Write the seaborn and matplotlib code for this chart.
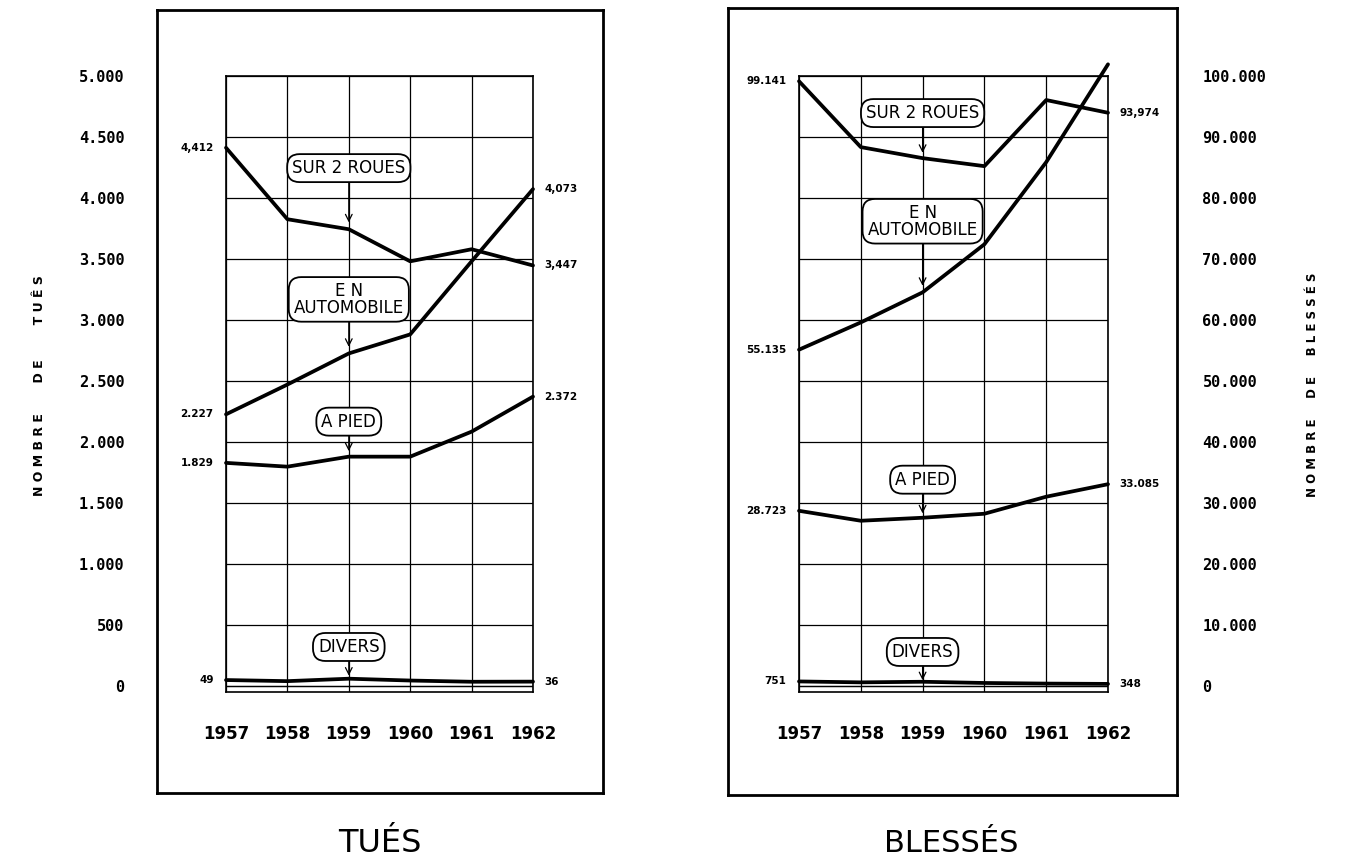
import numpy as np
import pandas as pd
import matplotlib
matplotlib.use('Agg')
import matplotlib.pyplot as plt
import seaborn as sns

# years on the x axis
years = [1957, 1958, 1959, 1960, 1961, 1962]
categories = ['SUR 2 ROUES', 'AUTOMOBILE', 'A PIED', 'DIVERS']

# tués (killed)
tues_roues = [4412, 3826, 3744, 3481, 3580, 3447]
tues_auto = [2227, 2471, 2726, 2882, 3481, 4073]
tues_pied = [1829, 1798, 1880, 1880, 2085, 2372]
tues_divers = [49, 40, 60, 45, 35, 36]

# blessés (injured)
bles_roues = [99141, 88342, 86535, 85222, 96059, 93974]
bles_auto = [55135, 59606, 64532, 72414, 85878, 101915]
bles_pied = [28723, 27094, 27586, 28243, 31034, 33085]
bles_divers = [751, 600, 700, 500, 400, 348]

# printed end labels (left of 1957 / right of 1962), same order as categories
tues_left = ['4,412', '2.227', '1.829', '49']
tues_right = ['3,447', '4,073', '2.372', '36']
bles_left = ['99.141', '55.135', '28.723', '751']
bles_right = ['93,974', '101,915', '33.085', '348']

tues_ticks = list(range(0, 5001, 500))
tues_ticklabels = ['0', '500', '1.000', '1.500', '2.000', '2.500',
                   '3.000', '3.500', '4.000', '4.500', '5.000']
bles_ticks = list(range(0, 100001, 10000))
bles_ticklabels = ['0', '10.000', '20.000', '30.000', '40.000', '50.000',
                   '60.000', '70.000', '80.000', '90.000', '100.000']

# box labels: (text, box centre, arrow tip) at 1959
tues_boxes = [('SUR 2 ROUES', 4245, 3800), ('E N\nAUTOMOBILE', 3169, 2780),
              ('A PIED', 2167, 1925), ('DIVERS', 320, 85)]
bles_boxes = [('SUR 2 ROUES', 93924, 87400), ('E N\nAUTOMOBILE', 76190, 65600),
              ('A PIED', 33826, 28300), ('DIVERS', 5583, 950)]

sns.set_style('white')
plt.rcParams['font.family'] = ['DejaVu Sans']
plt.rcParams['text.color'] = 'black'
plt.rcParams['xtick.color'] = 'black'
plt.rcParams['ytick.color'] = 'black'

W, H = 1351, 868
fig = plt.figure(figsize=(W / 100, H / 100), dpi=100)


def px_rect(x0, y0, x1, y1):
    return [x0 / W, (H - y1) / H, (x1 - x0) / W, (y1 - y0) / H]


def frame(rect):
    f = fig.add_axes(rect, zorder=0)
    f.set_xticks([])
    f.set_yticks([])
    f.patch.set_alpha(0)
    for s in f.spines.values():
        s.set_linewidth(2)
        s.set_color('black')


def panel(rect, series, ymax, ticks, ticklabels, left_lab, right_lab, boxes, right_side):
    ax = fig.add_axes(rect, zorder=2)
    ax.patch.set_alpha(0)
    df = pd.DataFrame({
        'annee': years * 4,
        'valeur': sum(series, []),
        'cat': [c for c in categories for _ in years],
    })
    sns.lineplot(data=df, x='annee', y='valeur', hue='cat',
                 palette={c: 'black' for c in categories}, linewidth=2.7,
                 legend=False, ax=ax, zorder=3)
    for ln in ax.lines:
        ln.set_clip_on(False)
    ax.set_xlim(1957, 1962)
    ax.set_ylim(-ymax * 0.0098, ymax)
    ax.axhline(0, color='black', lw=0.9)
    ax.set_xticks(years)
    ax.set_xticklabels([str(y) for y in years], fontsize=12, fontweight='bold')
    ax.set_yticks(ticks)
    ax.set_xlabel('')
    ax.set_ylabel('')
    ax.grid(True, color='black', lw=0.9)
    for s in ax.spines.values():
        s.set_linewidth(1.2)
        s.set_color('black')
    ax.tick_params(axis='x', length=0, pad=24)
    if right_side:
        ax.yaxis.tick_right()
        ax.set_yticklabels(ticklabels, fontsize=11, fontweight='bold',
                           family='DejaVu Sans Mono', ha='left')
        ax.tick_params(axis='y', length=0, pad=68)
    else:
        ax.set_yticklabels(ticklabels, fontsize=11, fontweight='bold',
                           family='DejaVu Sans Mono', ha='right')
        ax.tick_params(axis='y', length=0, pad=73)

    for vals, l, r in zip(series, left_lab, right_lab):
        ax.annotate(l, xy=(1957, vals[0]), xytext=(-9, 0), textcoords='offset points',
                    ha='right', va='center', fontsize=7.5, fontweight='bold')
        ax.annotate(r, xy=(1962, vals[-1]), xytext=(8, 0), textcoords='offset points',
                    ha='left', va='center', fontsize=7.5, fontweight='bold')

    for txt, yc, tip in boxes:
        ax.annotate(txt, xy=(1959, tip), xytext=(1959, yc), ha='center', va='center',
                    fontsize=12, linespacing=0.9, zorder=5,
                    bbox=dict(boxstyle='round,pad=0.3,rounding_size=0.75',
                              fc='white', ec='black', lw=1.3),
                    arrowprops=dict(arrowstyle='->', lw=0.9, color='black',
                                    shrinkA=0, shrinkB=0))
    return ax


frame(px_rect(157, 10, 603, 793))
frame(px_rect(728, 8, 1177, 795))

panel(px_rect(226, 76, 533, 692),
      [tues_roues, tues_auto, tues_pied, tues_divers], 5000,
      tues_ticks, tues_ticklabels, tues_left, tues_right, tues_boxes, False)
panel(px_rect(799, 76, 1108, 692),
      [bles_roues, bles_auto, bles_pied, bles_divers], 100000,
      bles_ticks, bles_ticklabels, bles_left, bles_right, bles_boxes, True)

fig.text(40 / W, 1 - 386 / H, 'N O M B R E       D E        T U Ê S', rotation=90,
         ha='center', va='center', fontsize=9, fontweight='bold')
fig.text(1313 / W, 1 - 385 / H, 'N O M B R E     D E     B L E S S É S', rotation=90,
         ha='center', va='center', fontsize=8.5, fontweight='bold')

fig.text(380 / W, 1 - 843 / H, 'TUÉS', ha='center', va='center', fontsize=23)
fig.text(951 / W, 1 - 843 / H, 'BLESSÉS', ha='center', va='center', fontsize=22)

fig.savefig('out.png', dpi=100, facecolor='white')
